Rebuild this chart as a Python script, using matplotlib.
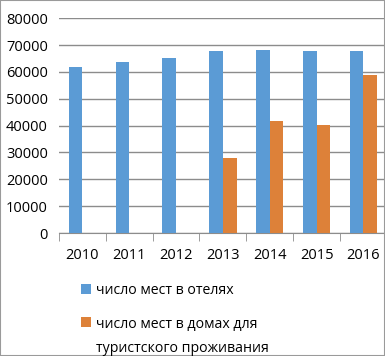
import matplotlib.pyplot as plt
import numpy as np
from matplotlib.patches import Rectangle

plt.rcParams['font.family'] = ['Open Sans', 'DejaVu Sans']

years = ['2010', '2011', '2012', '2013', '2014', '2015', '2016']
hotels = [61800, 63600, 65100, 67700, 68100, 67700, 67700]
houses = [0, 0, 0, 27900, 41700, 40200, 58800]

label_hotels = 'число мест в отелях'
label_houses = 'число мест в домах для\nтуристского проживания'

fig = plt.figure(figsize=(3.85, 3.56), dpi=100)
ax = fig.add_axes([0.153, 0.3455, 0.852, 0.6035])

x = np.arange(len(years))
w = 0.29
b1 = ax.bar(x - w / 2, hotels, w, color='#5B9BD5', zorder=3, label=label_hotels)
b2 = ax.bar(x + w / 2, houses, w, color='#DD8139', zorder=3, label=label_houses)

ax.set_xlim(-0.5, len(years) - 0.5)
ax.set_ylim(0, 80000)
ax.set_yticks(range(0, 80001, 10000))
ax.yaxis.grid(True, color='#8c8c8c', linewidth=1.0, zorder=0)
ax.tick_params(axis='y', length=0, labelsize=10.5, pad=8)

ax.set_xticks(x)
ax.set_xticklabels(years)
ax.set_xticks(np.arange(-0.5, len(years)), minor=True)
ax.tick_params(axis='x', which='major', length=0, labelsize=10.5, pad=11)
ax.tick_params(axis='x', which='minor', length=6, color='#8c8c8c', direction='out')

for s in ['top', 'right', 'left']:
    ax.spines[s].set_visible(False)
ax.spines['bottom'].set_color('#8c8c8c')

leg = fig.legend(handles=[b1, b2], loc='upper left', bbox_to_anchor=(0.195, 0.222),
                 frameon=False, fontsize=10.2, handlelength=0.7, handleheight=0.7,
                 handletextpad=0.35, labelspacing=1.35, borderaxespad=0)
for t in leg.get_texts():
    t.set_linespacing(1.85)
# square of the two-line entry sits next to its first line, as in Excel
rows = leg._legend_handle_box.get_children()[0].get_children()
rows[1].align = 'top'

fig.patches.append(Rectangle((0, 0), 1, 1, transform=fig.transFigure,
                             fill=False, edgecolor='#9a9a9a', linewidth=1.5))

fig.savefig('out.png', dpi=100)
